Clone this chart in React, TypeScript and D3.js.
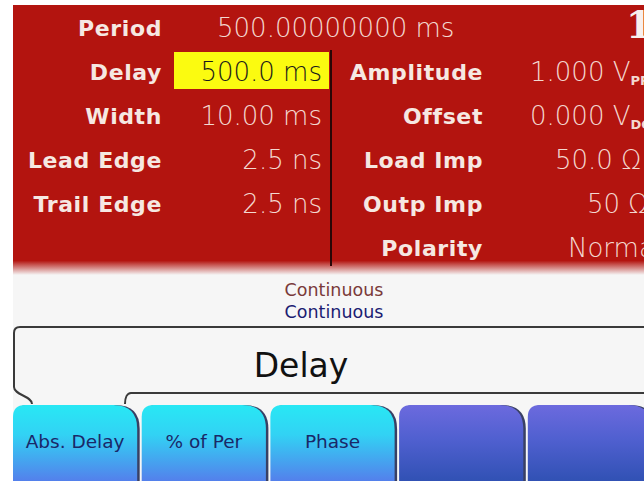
import React from "react";
import * as d3 from "d3";

const W = 644;
const H = 481;

const leftLabels = ["Period", "Delay", "Width", "Lead Edge", "Trail Edge"];
const leftValues = ["500.00000000 ms", "500.0 ms", "10.00 ms", "2.5 ns", "2.5 ns"];
const rightLabels = ["Amplitude", "Offset", "Load Imp", "Outp Imp", "Polarity"];
const rightValues = ["1.000 V", "0.000 V", "50.0 Ω", "50 Ω", "Normal"];
const rightSubs = ["PP", "DC", "", "", ""];
const rightValueX = [530, 530, 555, 587, 568];
const statusLines = ["Continuous", "Continuous"];
const statusColors = ["#7a3a3a", "#1c1c72"];
const menuTitle = "Delay";
const softkeys = ["Abs. Delay", "% of Per", "Phase", "", ""];
const softkeyActive = [true, true, true, false, false];
const channelMark = "1";

export default function App() {
  const rowY = d3.scaleLinear().domain([0, 5]).range([36, 256]);
  const keyX = d3.scaleBand<number>().domain(d3.range(softkeys.length)).range([13, 652]).paddingInner(0.035).paddingOuter(0);

  const labelFont = { fontFamily: "DejaVu Sans", fontWeight: 700, fontSize: 22, letterSpacing: 0.6, fill: "#f6e8e2" } as const;
  const valueFont = { fontFamily: "DejaVu Sans", fontWeight: 200, fontSize: 26, fill: "#f3d8d0" } as const;

  const keyPath = (x0: number, w: number) => {
    const y0 = 405, y1 = 490, r1 = 12, r2 = 24;
    return `M${x0},${y1} L${x0},${y0 + r1} Q${x0},${y0} ${x0 + r1},${y0} L${x0 + w - r2},${y0} Q${x0 + w},${y0} ${x0 + w},${y0 + r2} L${x0 + w},${y1} Z`;
  };

  return (
    <svg width={W} height={H} style={{ position: "absolute", left: 0, top: 0, display: "block" }}>
      <defs>
        <linearGradient id="fade" x1="0" y1="0" x2="0" y2="1">
          <stop offset="0" stopColor="#b3140f" />
          <stop offset="0.1" stopColor="#b3140f" />
          <stop offset="1" stopColor="#f6f6f6" />
        </linearGradient>
        <linearGradient id="cyan" x1="0" y1="0" x2="0" y2="1">
          <stop offset="0" stopColor="#28e8f4" />
          <stop offset="0.35" stopColor="#32d2f4" />
          <stop offset="1" stopColor="#5a70ea" />
        </linearGradient>
        <linearGradient id="dark" x1="0" y1="0" x2="0" y2="1">
          <stop offset="0" stopColor="#6c6ade" />
          <stop offset="0.4" stopColor="#5060d0" />
          <stop offset="1" stopColor="#2a4eae" />
        </linearGradient>
      </defs>
      <rect x={0} y={0} width={W} height={H} fill="#ffffff" />
      <rect x={13} y={5} width={W - 13} height={H - 5} fill="#f6f6f6" />
      <rect x={13} y={5} width={W - 13} height={256} fill="#b3140f" />
      <rect x={13} y={259} width={W - 13} height={16} fill="url(#fade)" />

      {/* yellow focus box */}
      <rect x={174} y={52} width={155} height={37} fill="#fbfb10" />
      <line x1={331} x2={331} y1={50} y2={266} stroke="#2a0606" strokeWidth={2} />

      {leftLabels.map((t, i) => (
        <text key={t} x={162} y={rowY(i)} textAnchor="end" {...labelFont}>{t}</text>
      ))}
      {leftValues.map((t, i) => (
        <text key={"lv" + i} x={i === 0 ? 217 : 322} y={rowY(i) + 1} textAnchor={i === 0 ? "start" : "end"} {...valueFont} fill={i === 1 ? "#1a1a1a" : valueFont.fill}>{t}</text>
      ))}
      {rightLabels.map((t, i) => (
        <text key={t} x={483} y={rowY(i + 1)} textAnchor="end" {...labelFont}>{t}</text>
      ))}
      {rightValues.map((t, i) => (
        <text key={"rv" + i} x={rightValueX[i]} y={rowY(i + 1) + 1} {...valueFont}>
          {t}
          {rightSubs[i] && <tspan fontSize={13} dy={4} fontWeight={700}>{rightSubs[i]}</tspan>}
        </text>
      ))}
      <text x={626} y={38} fontFamily="DejaVu Serif" fontWeight={700} fontSize={38} fill="#f8f0ee">{channelMark}</text>

      {statusLines.map((t, i) => (
        <text key={"s" + i} x={334} y={296 + i * 22} textAnchor="middle" fontFamily="DejaVu Sans" fontSize={17.5} fill={statusColors[i]}>{t}</text>
      ))}

      {/* menu title frame */}
      <path d="M32,404 C32,396 14,395 14,387 L14,333 Q14,327 20,327 L660,327 M660,393 L131,393 C127,393 125,398 125,404" fill="none" stroke="#3a3a3a" strokeWidth={2} />
      <text x={301} y={377} textAnchor="middle" fontFamily="DejaVu Sans" fontSize={33} fill="#111">{menuTitle}</text>

      {softkeys.map((t, i) => {
        const x0 = keyX(i)!;
        const w = keyX.bandwidth();
        return (
          <g key={"k" + i}>
            <path d={keyPath(x0 + 2.5, w)} fill="#18204a" opacity={0.85} />
            <path d={keyPath(x0, w)} fill={softkeyActive[i] ? "url(#cyan)" : "url(#dark)"} />
            {t && (
              <text x={x0 + w / 2} y={448} textAnchor="middle" fontFamily="DejaVu Sans" fontSize={18.5} fill="#1a2868">{t}</text>
            )}
          </g>
        );
      })}
    </svg>
  );
}
